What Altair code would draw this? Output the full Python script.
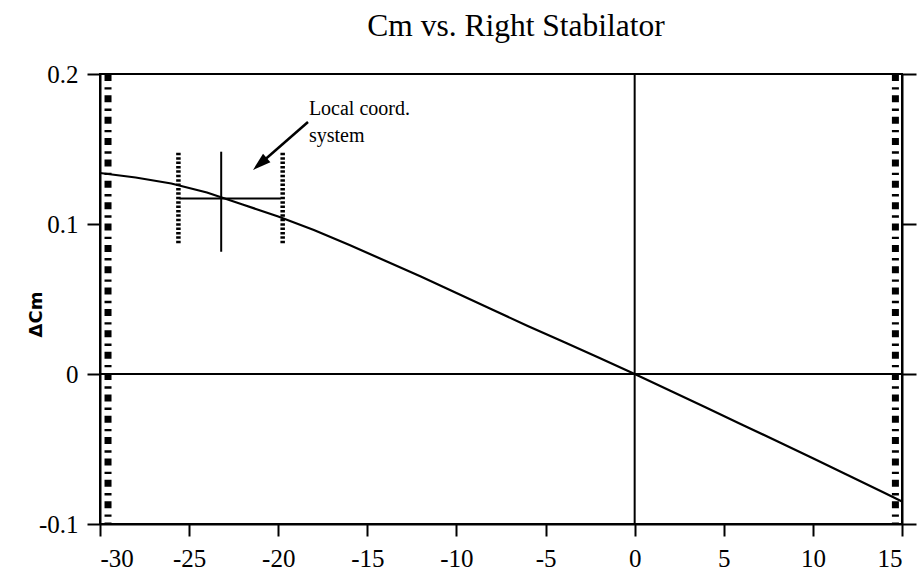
import altair as alt
import pandas as pd

# ---- data ----
curve_x = [-30, -28, -26, -24, -22, -20, -18, -16, -14, -12, -10, -8, -6, -4, -2,
           0, 2, 4, 6, 8, 10, 12, 14, 15]
curve_y = [0.134, 0.131, 0.127, 0.121, 0.113, 0.105, 0.096, 0.086, 0.0755, 0.065,
           0.054, 0.043, 0.032, 0.0215, 0.0108, 0.0, -0.0112, -0.0224, -0.0336,
           -0.0448, -0.0562, -0.0676, -0.0792, -0.085]

x_ticks = [-30, -25, -20, -15, -10, -5, 0, 5, 10, 15]
y_ticks = [-0.1, 0, 0.1, 0.2]

limit_x = [-29.55, 14.63]            # stabilator limits (dash-dot lines)
local_origin = (-23.2, 0.117)         # local coordinate system origin
local_v_y = [0.0815, 0.1482]          # vertical solid line extent
local_h_x = [-25.55, -19.85]          # horizontal solid line extent
local_dot_x = [-25.6, -19.75]         # dotted vertical lines
local_dot_y = [0.086, 0.1475]

arrow_tail = (-18.33, 0.168)
arrow_head = (-21.03, 0.140)

note_lines = ["Local coord.", "system"]
note_x = [-18.28, -18.28]
note_y = [0.1727, 0.1545]

SERIF = "Liberation Serif"

xs = alt.Scale(domain=[-30, 15], nice=False, zero=False)
ys = alt.Scale(domain=[-0.1, 0.2], nice=False, zero=False)

x_axis = alt.Axis(values=x_ticks, title=None, grid=False, labelExpr="toString(datum.value)",
                  tickSize=12, labelPadding=10)
y_axis = alt.Axis(values=y_ticks, title="ΔCm", grid=False, labelExpr="toString(datum.value)",
                  tickSize=13, labelPadding=9, titleFont="DejaVu Sans", titleFontSize=18,
                  titleFontWeight="bold", titleAngle=270, titleX=-64, titleY=240,
                  titleAlign="center", titleBaseline="middle")


def X(field="x"):
    return alt.X(f"{field}:Q", scale=xs, title=None)


def Y(field="y"):
    return alt.Y(f"{field}:Q", scale=ys, axis=None)


curve_df = pd.DataFrame({"x": curve_x, "y": curve_y})
curve = alt.Chart(curve_df).mark_line(color="black", strokeWidth=2.2).encode(
    x=alt.X("x:Q", scale=xs, axis=x_axis),
    y=alt.Y("y:Q", scale=ys, axis=y_axis),
)

# right axis ticks (no labels)
right_axis = alt.Chart(curve_df).mark_point(opacity=0).encode(
    x=X(),
    y=alt.Y("y:Q", scale=ys, axis=alt.Axis(orient="right", values=y_ticks, labels=False,
                                            title=None, grid=False, tickSize=14)),
)

zero_v = alt.Chart(pd.DataFrame({"x": [0]})).mark_rule(color="black", strokeWidth=2).encode(x=X())
zero_h = alt.Chart(pd.DataFrame({"y": [0]})).mark_rule(color="black", strokeWidth=2).encode(y=Y())

limits = alt.Chart(pd.DataFrame({"x": limit_x, "y": [0.2, 0.2], "y2": [-0.1, -0.1]})).mark_rule(
    color="black", strokeWidth=7, strokeDash=[7, 6.2, 2.4, 5.76]).encode(
    x=X(), y=Y(), y2="y2:Q")

loc_v = alt.Chart(pd.DataFrame({"x": [local_origin[0]], "y": [local_v_y[1]], "y2": [local_v_y[0]]})).mark_rule(
    color="black", strokeWidth=2).encode(x=X(), y=Y(), y2="y2:Q")
loc_h = alt.Chart(pd.DataFrame({"x": [local_h_x[0]], "x2": [local_h_x[1]], "y": [local_origin[1]]})).mark_rule(
    color="black", strokeWidth=2).encode(x=X(), x2="x2:Q", y=Y())
loc_dot = alt.Chart(pd.DataFrame({"x": local_dot_x, "y": [local_dot_y[1]] * 2, "y2": [local_dot_y[0]] * 2})).mark_rule(
    color="black", strokeWidth=4.5, strokeDash=[2.5, 1.9]).encode(x=X(), y=Y(), y2="y2:Q")

arrow_line = alt.Chart(pd.DataFrame({"x": [arrow_tail[0]], "x2": [arrow_head[0]],
                                     "y": [arrow_tail[1]], "y2": [arrow_head[1]]})).mark_rule(
    color="black", strokeWidth=2.5).encode(x=X(), x2="x2:Q", y=Y(), y2="y2:Q")
arrow_tip = alt.Chart(pd.DataFrame({"x": [arrow_head[0]], "y": [arrow_head[1]]})).mark_point(
    shape="M0,-1L0.62,1L-0.62,1Z", filled=True, color="black", opacity=1, size=330, angle=229,
    strokeWidth=0).encode(x=X(), y=Y())

notes = alt.Chart(pd.DataFrame({"x": note_x, "y": note_y, "t": note_lines})).mark_text(
    font=SERIF, fontSize=20, align="left", baseline="alphabetic", color="black").encode(
    x=X(), y=Y(), text="t:N")

chart = alt.layer(
    curve, limits, zero_v, zero_h, loc_dot, loc_v, loc_h, arrow_line, arrow_tip, notes, right_axis
).resolve_axis(y="independent").properties(
    width=802, height=450,
    padding={"left": 100, "top": 74, "right": 17, "bottom": 49},
    autosize=alt.AutoSizeParams(type="none"),
    title=alt.TitleParams("Cm vs. Right Stabilator", font=SERIF, fontSize=31.5, fontWeight="normal",
                          color="black", anchor="middle", dx=15, baseline="alphabetic", offset=-5),
).configure_view(stroke="black", strokeWidth=2).configure_axis(
    domainColor="black", domainWidth=2, tickColor="black", tickWidth=2, grid=False,
    labelFont=SERIF, labelFontSize=25, labelColor="black", titleColor="black",
)

chart.save("out.html", embed_options={"renderer": "svg", "actions": False})
